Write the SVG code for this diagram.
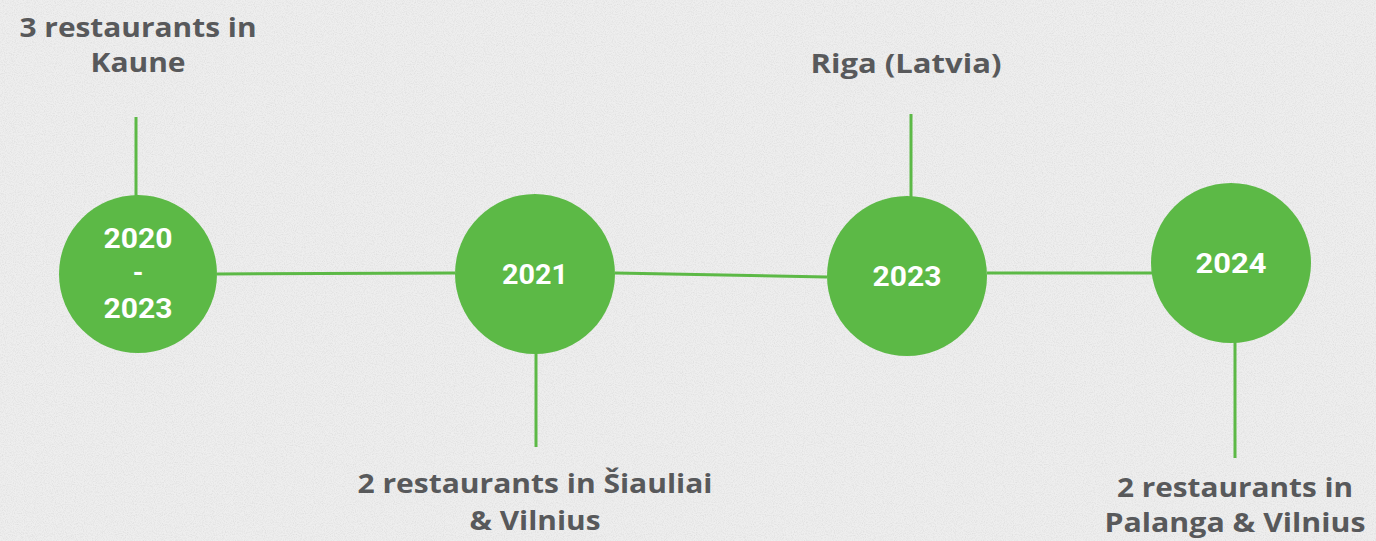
<svg xmlns="http://www.w3.org/2000/svg" width="1376" height="541" viewBox="0 0 1376 541">
<defs>
<filter id="grain" x="0" y="0" width="100%" height="100%">
<feTurbulence type="fractalNoise" baseFrequency="0.9" numOctaves="2" seed="3" result="n"/>
<feColorMatrix type="matrix" values="0 0 0 0 0.55  0 0 0 0 0.55  0 0 0 0 0.55  0 0 0 -1.6 0.95" result="m"/>
<feComposite in="m" in2="SourceGraphic" operator="in"/>
</filter>
<style>
.lbl{font-family:"Open Sans","Liberation Sans",sans-serif;font-weight:700;font-size:27px;fill:#58595b;text-anchor:middle}
.yr{font-family:"Roboto","Liberation Sans",sans-serif;font-weight:700;font-size:27px;fill:#ffffff;text-anchor:middle}
.ln{stroke:#5cb946;stroke-width:3;fill:none}
.dot{fill:#5cb946}
</style>
</defs>
<rect width="1376" height="541" fill="#eeeeee"/>
<rect width="1376" height="541" fill="#eeeeee" filter="url(#grain)" opacity="0.45"/>
<g id="connectors">
<line class="ln" x1="217" y1="274" x2="455" y2="273"/>
<line class="ln" x1="615" y1="273" x2="827" y2="277"/>
<line class="ln" x1="987" y1="273" x2="1152" y2="273"/>
<line class="ln" x1="136" y1="117" x2="136" y2="196"/>
<line class="ln" x1="536" y1="353" x2="536" y2="447"/>
<line class="ln" x1="911" y1="114" x2="911" y2="198"/>
<line class="ln" x1="1235" y1="342" x2="1235" y2="458"/>
</g>
<g id="node-2020">
<circle class="dot" cx="138" cy="274" r="79"/>
<text class="yr" x="138" y="248" textLength="69" lengthAdjust="spacingAndGlyphs">2020</text>
<text class="yr" x="138" y="282">-</text>
<text class="yr" x="138" y="318" textLength="69" lengthAdjust="spacingAndGlyphs">2023</text>
</g>
<g id="node-2021">
<circle class="dot" cx="535" cy="274" r="80"/>
<text class="yr" x="535" y="284" textLength="66" lengthAdjust="spacingAndGlyphs">2021</text>
</g>
<g id="node-2023">
<circle class="dot" cx="907" cy="276" r="80"/>
<text class="yr" x="907" y="286" textLength="69" lengthAdjust="spacingAndGlyphs">2023</text>
</g>
<g id="node-2024">
<circle class="dot" cx="1231" cy="263" r="80"/>
<text class="yr" x="1231" y="273" textLength="71" lengthAdjust="spacingAndGlyphs">2024</text>
</g>
<g id="label-kaune">
<text class="lbl" x="138" y="37" textLength="237" lengthAdjust="spacingAndGlyphs">3 restaurants in</text>
<text class="lbl" x="138" y="72" textLength="95" lengthAdjust="spacingAndGlyphs">Kaune</text>
</g>
<g id="label-riga">
<text class="lbl" x="906" y="73" textLength="191" lengthAdjust="spacingAndGlyphs">Riga (Latvia)</text>
</g>
<g id="label-siauliai">
<text class="lbl" x="535" y="493" textLength="355" lengthAdjust="spacingAndGlyphs">2 restaurants in Šiauliai</text>
<text class="lbl" x="535" y="530" textLength="131" lengthAdjust="spacingAndGlyphs">&amp; Vilnius</text>
</g>
<g id="label-palanga">
<text class="lbl" x="1235" y="497" textLength="236" lengthAdjust="spacingAndGlyphs">2 restaurants in</text>
<text class="lbl" x="1235" y="532" textLength="261" lengthAdjust="spacingAndGlyphs">Palanga &amp; Vilnius</text>
</g>
</svg>
